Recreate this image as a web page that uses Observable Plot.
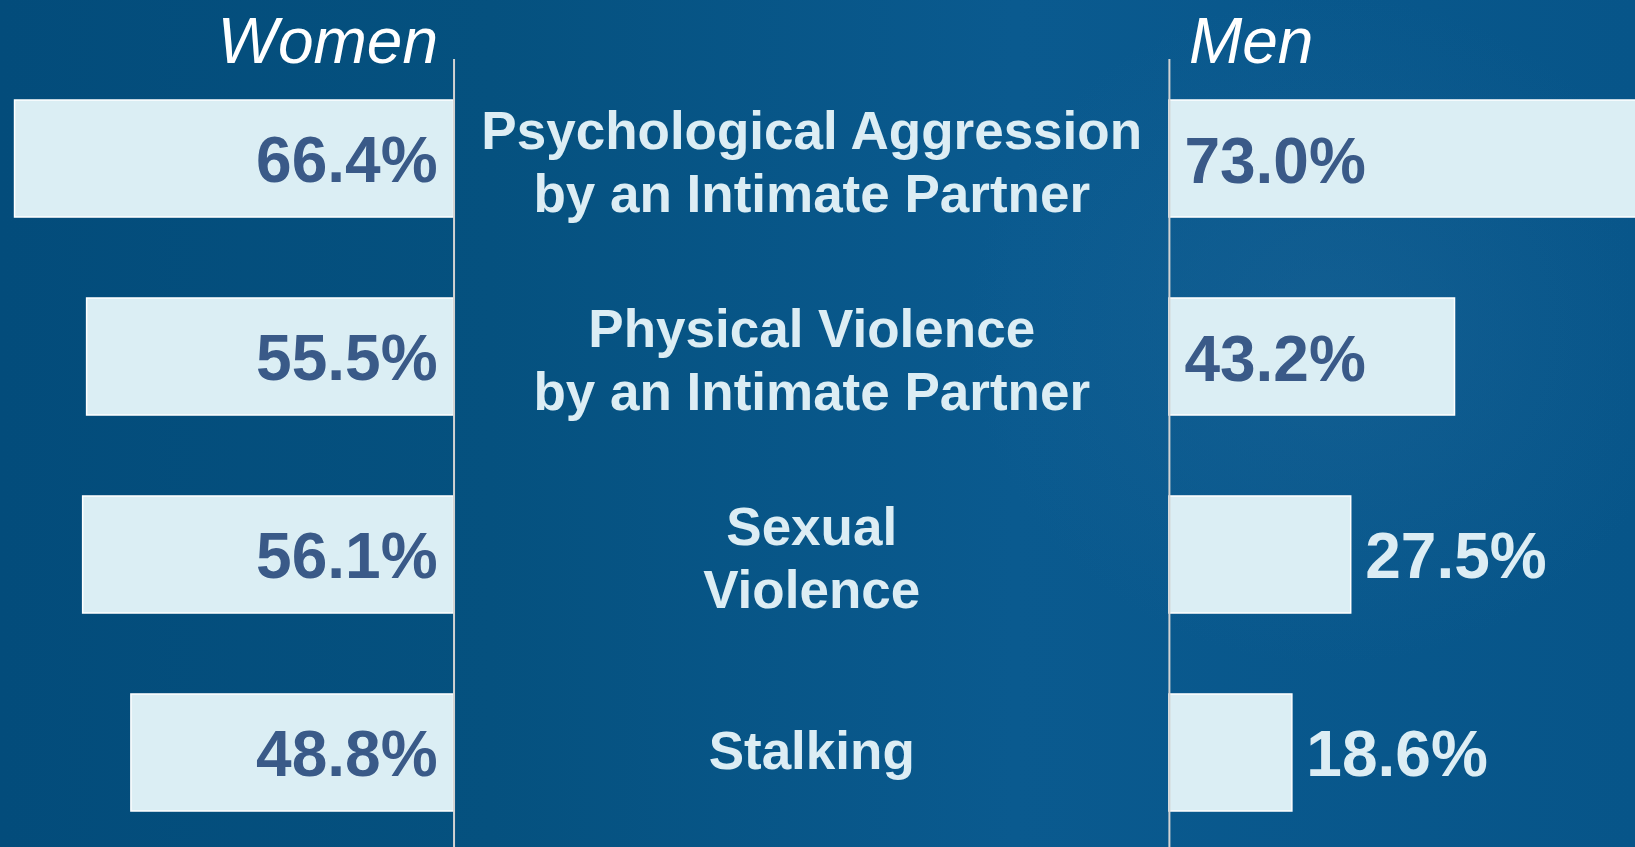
<!DOCTYPE html>
<html>
<head>
<meta charset="utf-8">
<script src="https://cdn.jsdelivr.net/npm/d3@7"></script>
<script src="https://cdn.jsdelivr.net/npm/@observablehq/plot@0.6"></script>
<style>
  html, body { margin: 0; padding: 0; width: 1635px; height: 847px; overflow: hidden; }
  body {
    background:
      radial-gradient(ellipse 520px 480px at 1330px 330px, rgba(40,110,160,0.30), rgba(40,110,160,0) 70%),
      linear-gradient(90deg, #034c7b 0%, #05517f 30%, #0a5a8f 62%, #075589 100%);
  }
  #chart svg { display: block; }
</style>
</head>
<body>
<div id="chart"></div>
<script>
// ---- data ----
const categories = [
  "Psychological Aggression\nby an Intimate Partner",
  "Physical Violence\nby an Intimate Partner",
  "Sexual\nViolence",
  "Stalking"
];
const womenValues = [66.4, 55.5, 56.1, 48.8];
const menValues = [73.0, 43.2, 27.5, 18.6];
const groupLabels = ["Women", "Men"];

// ---- layout constants (in % units of the shared x scale) ----
const GAP = 108.2;            // distance between the women axis and the men axis
const X_DOMAIN = [-68.6, 178.7];
const INSIDE_MIN = 35;        // men values below this get an outside label

const barFill = "#dbeef4";
const darkText = "#3a5a88";
const lightText = "#dcedf4";
const font = "'Liberation Sans', Arial, sans-serif";

const rows = categories.map((c, i) => ({cat: c, women: womenValues[i], men: menValues[i]}));
const fmt = v => v.toFixed(1) + "%";
const isMulti = d => d.cat.includes("\n");

const catStyle = {y: "cat", x: () => GAP / 2, text: "cat", textAnchor: "middle", lineAnchor: "middle", lineHeight: 1.19,
  fill: lightText, fontSize: 53, fontWeight: "bold", fontFamily: font};

const chart = Plot.plot({
  width: 1635,
  height: 847,
  marginLeft: 0,
  marginRight: 0,
  marginTop: 100,
  marginBottom: 36,
  style: {background: "transparent", fontFamily: font},
  x: {domain: X_DOMAIN, axis: null},
  y: {domain: categories, axis: null, paddingInner: 0.409, paddingOuter: 0, round: false},
  marks: [
    // women bars (extend left from the women axis)
    Plot.barX(rows, {y: "cat", x1: d => -d.women, x2: () => 0, fill: barFill, stroke: "white", strokeWidth: 1.5}),
    // men bars (extend right from the men axis)
    Plot.barX(rows, {y: "cat", x1: () => GAP, x2: d => GAP + d.men, fill: barFill, stroke: "white", strokeWidth: 1.5}),
    // axis lines
    Plot.ruleX([0, GAP], {stroke: "#d2d2d2", strokeWidth: 2, insetTop: -41, insetBottom: -36}),
    // women value labels (inside)
    Plot.text(rows, {y: "cat", x: () => 0, text: d => fmt(d.women), textAnchor: "end", dx: -16.5, dy: 3,
      fill: darkText, fontSize: 64, fontWeight: "bold", fontFamily: font}),
    // men value labels inside bars
    Plot.text(rows.filter(d => d.men >= INSIDE_MIN), {y: "cat", x: () => GAP, text: d => fmt(d.men), textAnchor: "start", dx: 15, dy: 4,
      fill: darkText, fontSize: 64, fontWeight: "bold", fontFamily: font}),
    // men value labels outside bars
    Plot.text(rows.filter(d => d.men < INSIDE_MIN), {y: "cat", x: d => GAP + d.men, text: d => fmt(d.men), textAnchor: "start", dx: 14, dy: 3,
      fill: lightText, fontSize: 64, fontWeight: "bold", fontFamily: font}),
    // category labels in the centre
    Plot.text(rows.filter(isMulti), {...catStyle, dy: 1}),
    Plot.text(rows.filter(d => !isMulti(d)), {...catStyle, dy: -4}),
    // group headers
    Plot.text([groupLabels[0]], {x: () => 0, frameAnchor: "top", text: d => d, textAnchor: "end", lineAnchor: "bottom", dx: -16, dy: -38,
      fill: "white", fontSize: 64, fontStyle: "italic", fontFamily: font}),
    Plot.text([groupLabels[1]], {x: () => GAP, frameAnchor: "top", text: d => d, textAnchor: "start", lineAnchor: "bottom", dx: 19.5, dy: -38,
      fill: "white", fontSize: 64, fontStyle: "italic", fontFamily: font})
  ]
});
document.getElementById("chart").appendChild(chart);
</script>
</body>
</html>
